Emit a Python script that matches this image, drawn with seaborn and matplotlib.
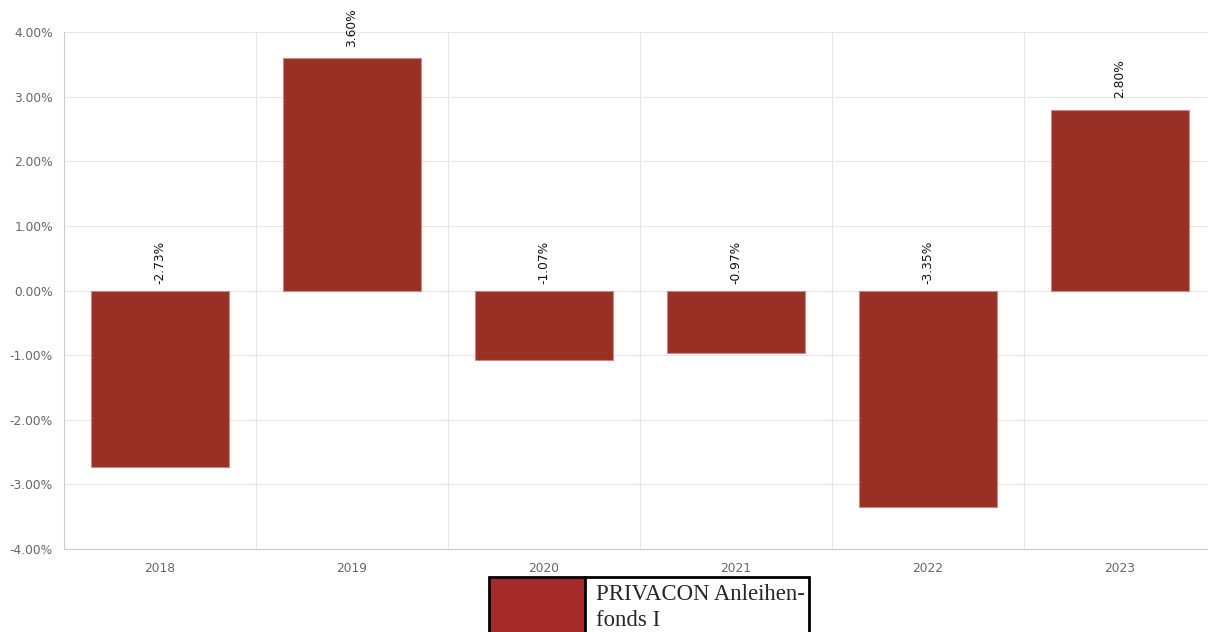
import pandas as pd
import matplotlib.pyplot as plt
import seaborn as sns
from matplotlib.patches import Rectangle
from matplotlib.ticker import FixedLocator, FuncFormatter

# data
years = ['2018', '2019', '2020', '2021', '2022', '2023']
returns = [-2.73, 3.60, -1.07, -0.97, -3.35, 2.80]
series_name = 'PRIVACON Anleihen-\nfonds I'

df = pd.DataFrame({'year': years, 'ret': returns})

sns.set_style('white')
plt.rcParams['font.family'] = ['DejaVu Sans']

fig = plt.figure(figsize=(12.08, 6.32), dpi=100)
ax = fig.add_axes([64 / 1208, 83 / 632, 1152 / 1208, 517 / 632])

sns.barplot(data=df, x='year', y='ret', color='#993025', width=0.72,
            edgecolor='#c98a84', linewidth=0.8, saturation=1, ax=ax, zorder=3)

ax.set_ylim(-4, 4)
ax.set_xlim(-0.5, 5.5)
ax.yaxis.set_major_locator(FixedLocator([-4, -3, -2, -1, 0, 1, 2, 3, 4]))
ax.yaxis.set_major_formatter(FuncFormatter(lambda v, p: f'{v:.2f}%'))
ax.xaxis.set_minor_locator(FixedLocator([0.5, 1.5, 2.5, 3.5, 4.5]))

ax.grid(axis='y', color='#e6e6e6', linewidth=0.8, zorder=0)
ax.grid(axis='x', which='minor', color='#e6e6e6', linewidth=0.8, zorder=0)
ax.tick_params(axis='y', length=5, color='#cccccc', labelsize=8.8, labelcolor='#666666', pad=3)
ax.tick_params(axis='x', which='major', length=0, labelsize=8.8, labelcolor='#666666', pad=9)
ax.tick_params(axis='x', which='minor', length=7, color='#e6e6e6')
ax.set_xlabel('')
ax.set_ylabel('')
for side in ['top', 'right']:
    ax.spines[side].set_visible(False)
ax.spines['left'].set_color('#cccccc')
ax.spines['bottom'].set_color('#cccccc')
ax.spines['bottom'].set_position(('data', -4))

for i, v in enumerate(returns):
    off = 8 if v > 0 else 5
    ax.annotate(f'{v:.2f}%', xy=(i, max(v, 0)), xytext=(0, off), textcoords='offset points',
                rotation=90, ha='center', va='bottom', fontsize=8.8, color='#111111')

# legend box below the chart
fig.add_artist(Rectangle((489 / 1208, (632 - 640) / 632), 96 / 1208, 63 / 632,
                         transform=fig.transFigure, facecolor='#a52a2a',
                         edgecolor='black', linewidth=2, clip_on=False))
fig.add_artist(Rectangle((585 / 1208, (632 - 640) / 632), 224 / 1208, 63 / 632,
                         transform=fig.transFigure, facecolor='white',
                         edgecolor='black', linewidth=2, clip_on=False))
fig.text(596 / 1208, (632 - 584) / 632, series_name, family='Liberation Serif',
         fontsize=16.4, va='top', ha='left', linespacing=1.3)

fig.savefig('out.png', dpi=100)
